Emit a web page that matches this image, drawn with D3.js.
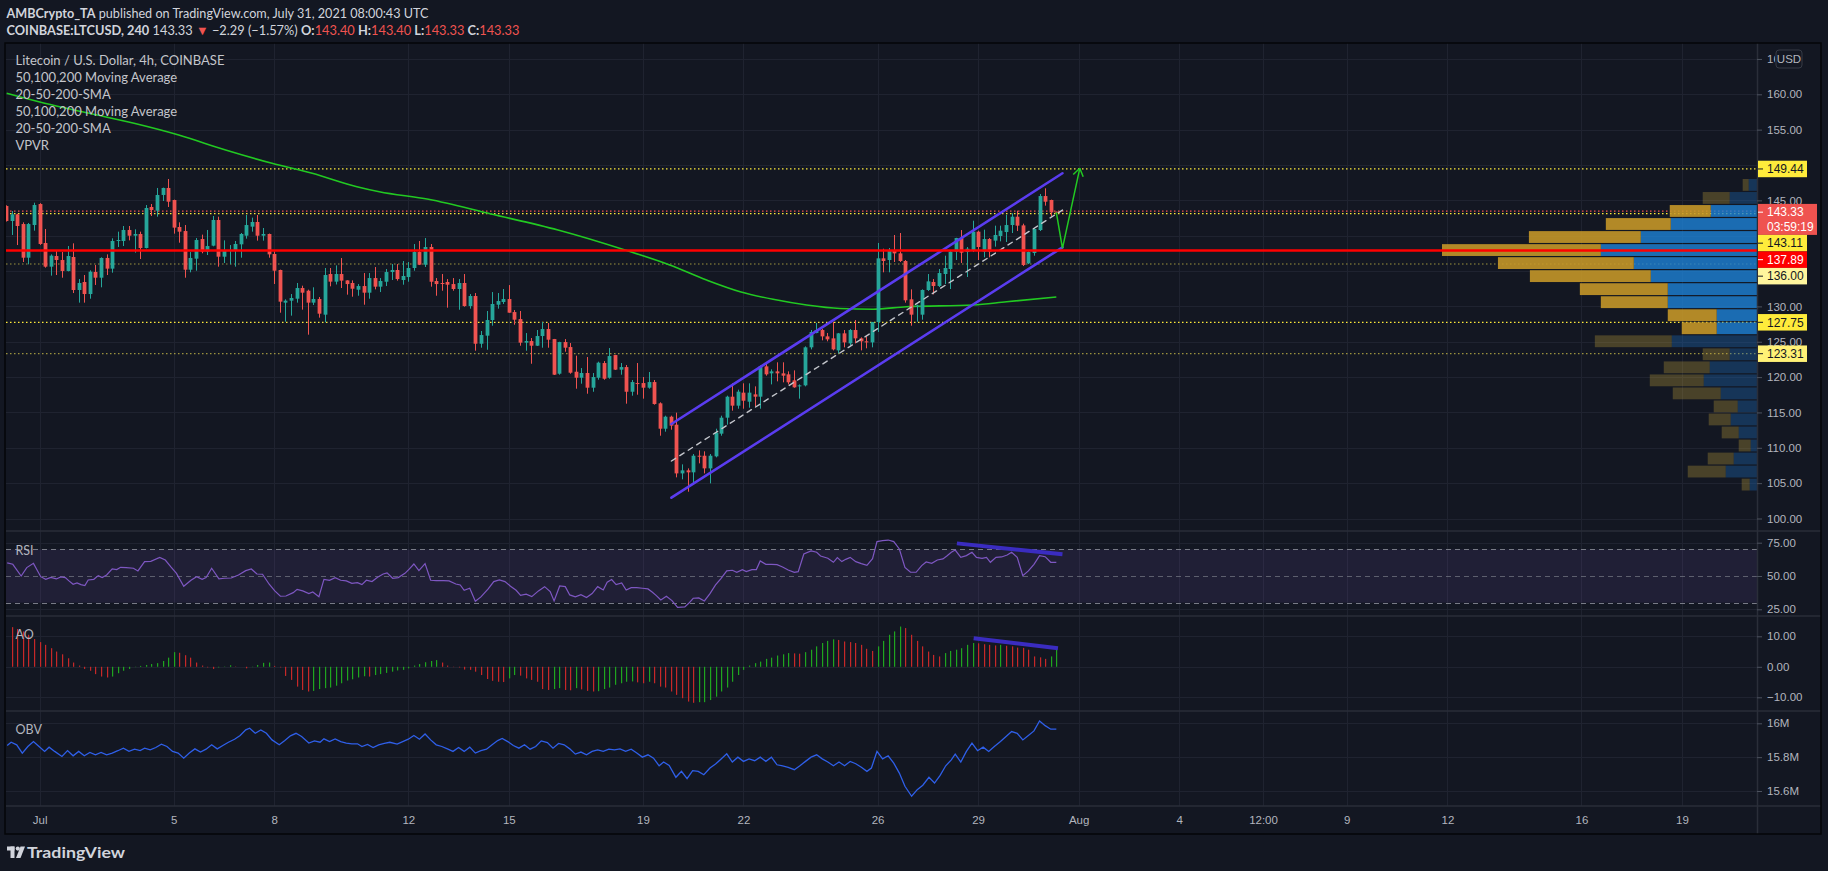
<!DOCTYPE html>
<html>
<head>
<meta charset="utf-8">
<title>LTCUSD 4h</title>
<script src="https://cdn.jsdelivr.net/npm/d3@7"></script>
<style>
  html, body { margin: 0; padding: 0; background: #131722; overflow: hidden; }
  text { font-family: Lato, "Open Sans", sans-serif; }
  .axis text { font-family: "Liberation Sans", Arial, sans-serif; font-size: 11.5px; fill: #b2b5be; }
</style>
</head>
<body>
<div id="chart"></div>
<script>
// 4h bars, bar 0 = 1 Jul 2021 00:00 UTC, first drawn bar is -6 (30 Jun)
var firstBar = -6;
var candleOpen = [144.20,142.08,143.02,141.65,136.89,141.51,144.48,138.97,135.62,137.13,136.56,135.01,136.99,132.32,133.45,131.75,134.87,134.06,136.85,135.34,139.25,139.25,140.81,140.00,140.24,138.26,144.06,143.54,145.76,146.75,145.05,141.23,140.66,135.19,136.75,139.53,137.74,138.59,142.22,137.03,137.84,137.98,138.78,140.00,141.28,141.94,140.00,140.24,137.41,135.15,130.53,130.81,131.09,132.60,132.22,130.53,131.05,128.83,134.58,133.50,134.58,133.68,133.31,132.36,132.88,131.94,134.01,132.79,133.49,134.86,135.15,133.73,134.15,135.43,137.69,135.90,138.40,133.59,133.31,133.45,133.16,132.46,133.31,130.05,131.47,124.72,125.86,128.07,130.24,130.62,131.04,129.20,128.21,124.87,125.10,124.44,125.81,126.80,125.38,120.48,124.96,124.25,120.76,119.91,120.58,118.50,119.91,121.99,119.91,123.12,121.05,121.42,117.93,119.16,119.16,118.50,119.30,116.29,112.70,114.40,113.27,106.38,106.81,106.53,108.88,108.88,107.09,108.79,112.00,114.26,117.23,115.96,117.80,116.52,117.56,117.23,121.52,120.53,120.81,120.53,120.39,119.54,118.69,118.83,124.21,126.24,126.66,125.76,125.48,123.78,126.19,124.77,126.66,125.48,125.06,124.91,127.79,136.80,136.56,137.97,137.50,136.42,131.00,130.00,128.83,132.32,133.45,132.88,134.58,135.29,137.74,139.67,137.69,137.88,140.57,137.74,139.53,139.30,139.96,140.52,141.51,142.69,141.46,136.09,137.55,140.80,145.61,145.05,143.40];
var candleHigh = [144.30,143.49,143.10,141.89,141.80,144.67,144.60,140.95,137.36,137.84,137.69,138.54,138.92,133.87,134.44,135.10,135.86,136.94,137.36,139.63,140.57,141.37,141.37,140.90,140.57,144.34,144.48,146.75,146.80,148.02,145.10,141.89,141.51,137.69,139.67,140.15,140.81,142.79,142.69,139.34,138.68,139.25,140.38,142.93,142.55,142.93,141.09,140.30,137.79,135.20,131.00,131.75,133.31,132.93,132.37,132.70,131.33,135.43,135.43,135.80,136.84,133.70,133.68,133.16,134.72,134.72,135.57,134.01,135.29,135.99,135.99,136.42,136.28,138.82,139.25,139.67,138.82,134.01,134.58,133.87,134.01,133.87,134.58,131.75,131.89,126.52,129.35,132.03,131.89,132.46,133.02,129.49,129.35,126.23,125.53,126.66,127.79,127.65,125.40,125.00,125.38,124.82,123.03,121.28,122.84,120.58,122.18,122.27,124.11,123.15,121.99,121.71,119.59,121.99,120.01,120.72,119.59,116.43,114.54,114.54,114.97,107.66,107.09,109.12,109.64,109.50,109.12,112.70,114.54,117.37,119.12,118.22,119.12,119.12,118.69,121.66,122.09,121.10,122.09,122.09,120.81,120.95,118.97,124.35,126.66,127.65,126.80,126.24,127.79,126.24,126.66,126.80,128.07,125.62,125.76,127.80,138.97,138.16,138.26,140.10,140.38,136.56,132.41,130.24,132.41,134.58,133.87,135.29,137.17,137.97,139.70,140.80,138.40,142.12,140.71,140.85,139.67,141.42,141.42,142.97,143.16,143.54,141.70,137.79,141.09,145.90,146.70,145.10,143.40];
var candleLow = [142.00,140.10,138.68,136.28,135.95,140.71,138.70,135.48,134.35,134.44,134.06,134.95,131.89,130.53,130.53,131.09,133.03,132.70,134.44,134.77,138.40,138.54,139.34,137.60,136.70,138.20,142.79,142.69,144.91,144.06,140.29,139.01,134.06,134.82,135.05,137.51,137.27,138.50,135.62,136.14,135.95,135.62,136.89,139.58,140.57,139.30,139.30,136.89,133.17,129.11,127.84,128.69,130.53,129.54,126.00,130.20,128.41,127.75,132.84,133.10,132.60,131.66,131.37,131.51,130.24,131.09,132.41,132.03,132.88,133.73,133.64,133.07,133.49,135.05,135.85,135.57,132.79,131.51,132.22,129.82,132.22,129.53,129.96,129.68,123.73,124.16,123.87,127.27,129.68,130.34,129.10,127.41,124.44,123.73,121.89,124.40,124.16,124.16,120.30,120.34,123.59,120.48,118.36,119.07,117.65,117.93,119.63,119.63,119.77,121.00,120.34,116.24,117.37,117.51,116.95,118.36,116.10,111.71,112.28,112.56,105.82,105.54,103.79,104.83,107.80,106.38,104.97,108.65,111.71,113.27,115.25,115.53,115.53,115.67,115.81,115.53,120.20,118.97,119.40,119.26,118.97,118.50,116.95,118.69,123.92,126.20,125.20,125.06,123.78,123.36,124.21,124.49,124.77,123.78,124.07,124.21,126.38,134.82,134.82,136.28,136.28,130.53,127.27,127.84,128.12,132.18,131.70,132.74,133.17,132.46,136.56,136.14,134.16,137.69,136.56,136.94,136.94,138.45,139.20,139.11,140.38,140.66,135.71,135.99,137.17,140.66,144.25,142.74,143.33];
var candleClose = [142.08,143.02,141.37,136.89,141.65,144.34,138.83,135.62,137.18,136.56,135.01,137.13,132.32,133.31,131.75,134.91,134.06,136.85,135.34,139.25,139.39,140.81,140.00,140.24,138.26,143.92,143.63,145.76,146.75,144.81,141.14,140.57,135.19,136.85,139.39,137.74,138.54,142.22,137.03,137.98,137.98,138.83,140.24,141.51,141.94,140.00,140.24,137.36,135.05,130.67,130.81,131.19,132.60,131.94,130.53,131.05,128.97,134.44,133.50,134.58,133.64,133.16,132.50,132.88,131.94,134.01,132.79,133.59,134.86,135.15,133.87,134.30,135.43,137.69,135.90,138.40,133.49,133.16,133.21,133.07,132.46,133.31,130.05,131.47,124.72,125.95,128.07,130.34,130.76,131.04,129.11,128.12,124.87,125.10,124.44,125.81,126.80,125.29,120.34,124.96,124.16,120.62,119.91,120.58,118.50,120.01,122.04,119.77,122.98,121.05,121.42,117.93,119.30,119.07,118.50,119.30,116.19,112.70,114.40,113.13,106.38,106.81,106.53,108.88,108.79,107.09,108.88,112.14,114.26,117.23,115.96,117.94,116.66,117.80,117.23,121.52,120.39,120.81,120.53,120.20,119.26,118.55,118.83,124.21,126.38,126.66,125.76,125.34,123.92,126.19,124.91,126.66,125.48,125.06,124.91,127.79,136.80,136.42,137.97,137.50,136.42,130.86,128.83,130.10,132.32,133.54,132.88,134.72,135.43,137.74,139.67,137.60,138.16,140.57,138.40,139.53,137.74,140.10,140.71,141.51,142.69,141.42,135.85,137.69,140.95,145.61,144.81,143.30,143.33];

// 200 SMA, read at these bar positions
var smaBar = [-5.9,0.9,8.9,16.9,24.9,33.3,41.6,48.8,56.8,60.8,69.6,80.8,92.8,104.8,112.8,119.4,125.4,131.3,137.3,143.3,149.2,155.2,167.1,173.1,182];
var smaValue = [160.14,158.73,157.31,155.90,154.24,152.12,150.24,148.83,146.93,146.22,145.15,143.07,140.81,137.98,135.86,133.73,132.08,131.00,130.20,129.70,129.59,129.96,130.20,130.66,131.33];

// levels drawn on the chart
var keyLevels = [149.44, 143.11, 127.75];
var minorLevels = [136.00, 123.31];
var supportLevel = 137.89;
var countdown = "03:59:19";
var lastChange = "\u22122.29 (\u22121.57%)";

// rising channel (upper / middle / lower) between two bars
var channelBar = [113.1, 183.1];
var channelUpper = [113.37, 148.83];
var channelMid = [108.13, 143.63];
var channelLower = [102.94, 138.36];

// projected move
var arrowBar = [182.0, 183.1, 186.2];
var arrowPrice = [143.3, 138.22, 149.53];

// volume profile rows, top row first
var vpUp = [25,82,139,259,349,469,370,319,268,268,121,121,256,82,142,160,109,58,79,55,19,70,94,22];
var vpDown = [18,81,123,195,336,477,408,363,264,201,147,105,231,81,138,162,144,72,66,51,36,78,114,24];
var vpValueRows = [2, 11];

// RSI 14
var rsiBar = [-5.8,-4.8,-3.3,-2.3,-1.1,0.2,1.1,2.0,3.0,3.8,4.6,5.2,6.0,6.7,7.4,8.1,8.7,9.7,10.5,11.2,12.0,13.0,13.8,14.5,15.5,16.8,17.6,18.8,19.9,21.5,22.5,23.5,24.5,25.8,27.1,28.1,29.1,29.8,30.8,32.1,33.1,34.3,35.6,36.9,37.9,38.9,39.9,41.1,42.1,43.1,44.1,45.4,46.1,47.1,48.2,48.9,50.0,50.9,51.9,52.9,53.9,54.9,55.9,56.9,57.7,58.5,59.5,60.5,61.5,62.2,63.2,64.2,65.4,66.2,67.0,67.9,69.0,70.0,71.0,72.3,73.3,74.5,75.3,76.0,77.0,78.0,79.0,80.3,81.3,82.3,83.3,84.3,85.3,86.1,87.1,88.1,89.3,90.4,91.4,92.1,93.1,94.1,94.9,95.9,96.9,97.9,98.9,99.9,100.9,101.6,102.4,103.2,104.2,105.0,105.9,106.9,107.9,108.9,109.7,110.4,111.2,112.2,113.2,114.2,115.5,116.2,117.0,118.0,119.0,120.0,121.0,122.0,123.0,124.0,124.8,125.8,126.5,127.5,128.3,129.0,130.0,131.0,132.0,133.0,134.0,135.1,135.8,136.8,138.1,139.1,139.8,141.1,142.1,142.8,143.6,144.3,145.1,146.1,147.1,148.1,149.1,149.9,150.9,151.9,152.9,153.9,154.9,155.9,156.9,157.9,158.7,159.7,160.7,161.7,162.4,163.2,163.9,164.9,165.9,166.9,167.7,168.7,169.5,170.2,171.2,172.2,173.2,174.0,175.0,176.0,177.0,178.0,179.0,180.0,181.0,182.0];
var rsiValue = [59.8,58.8,50.0,56.3,59.5,49.5,47.5,49.0,47.8,49.3,48.8,46.5,43.8,44.8,43.5,42.8,47.0,47.5,50.3,48.8,50.8,55.3,54.8,56.5,56.3,55.8,53.8,60.8,61.0,64.0,62.0,56.8,52.0,42.3,46.8,49.5,47.5,48.8,55.8,47.8,48.3,48.5,50.8,54.0,55.3,51.5,51.3,43.8,38.8,34.8,35.0,37.5,40.0,38.8,36.8,38.0,34.5,47.5,46.8,48.8,46.8,46.3,44.5,45.0,43.5,46.8,45.8,49.0,51.5,52.3,48.3,48.8,52.0,55.3,59.0,54.0,59.3,46.8,46.5,46.5,46.3,44.0,43.3,39.3,40.8,31.0,34.3,40.3,45.8,47.0,45.8,42.3,39.3,35.5,36.3,34.5,38.8,42.0,38.3,31.3,42.5,42.0,35.8,34.3,36.0,33.8,36.8,42.0,39.5,45.3,47.3,43.5,44.8,39.5,41.3,41.3,40.8,40.3,37.8,35.3,32.0,34.8,31.5,26.5,26.8,29.5,33.3,33.5,31.3,36.8,43.3,48.3,53.8,54.3,52.8,54.8,53.3,54.8,54.8,61.3,58.8,58.8,58.5,56.8,54.5,52.8,53.3,66.5,68.8,67.8,65.0,63.3,60.3,63.8,60.8,62.5,64.0,60.8,59.3,58.0,63.0,75.8,76.5,77.0,75.8,70.3,56.5,52.8,52.8,57.8,60.5,59.5,62.0,62.8,65.0,67.8,69.5,64.0,65.3,67.8,64.0,63.3,64.0,60.3,64.0,64.3,65.8,67.8,64.0,50.3,53.8,58.8,65.3,64.5,60.3,60.3];
var rsiDivBar = [164.2, 183.1];
var rsiDivValue = [74.5, 66.3];

// Awesome Oscillator, one value per bar, ending at the last bar
var aoValue = [13.0,12.4,11.6,10.5,9.1,8.1,7.2,6.1,5.0,4.1,2.8,1.4,0.4,-0.7,-1.3,-2.4,-3.2,-3.5,-3.2,-2.1,-1.3,-0.7,-0.1,0.3,0.6,0.9,1.2,1.9,3.0,4.8,4.6,3.8,3.0,1.4,0.4,-0.2,-0.7,-0.2,0.1,0.5,0.1,0.0,-0.5,-0.1,0.6,1.3,1.4,0.3,-0.2,-3.0,-4.3,-6.5,-7.6,-8.1,-7.9,-7.3,-7.0,-6.8,-6.2,-5.4,-4.5,-4.1,-3.5,-3.1,-3.2,-2.7,-2.4,-2.0,-1.6,-1.2,-1.0,-0.5,0.4,0.9,1.5,1.9,2.2,1.4,0.4,-0.1,-0.2,-0.9,-1.0,-1.6,-2.7,-4.0,-4.6,-4.9,-5.0,-3.8,-2.7,-2.9,-3.8,-4.3,-4.9,-7.3,-7.6,-7.3,-7.0,-7.6,-7.7,-7.0,-7.4,-7.9,-8.1,-8.0,-7.3,-6.8,-5.9,-5.4,-4.9,-4.8,-5.1,-5.4,-4.9,-5.4,-6.5,-6.8,-8.1,-9.2,-10.3,-11.4,-11.8,-11.6,-11.6,-10.9,-9.8,-8.1,-6.8,-4.9,-2.7,-1.0,0.4,1.2,1.7,2.6,3.0,3.7,4.1,4.5,4.4,4.3,4.8,5.6,6.7,7.8,8.5,9.0,8.8,8.3,8.1,7.8,7.2,5.9,5.2,6.7,8.5,10.5,11.6,13.2,12.7,10.5,8.5,6.7,5.0,3.9,3.4,4.5,5.2,5.6,6.1,7.2,7.8,7.7,7.4,7.2,7.0,7.2,6.9,6.7,6.3,6.2,5.6,3.4,3.1,2.6,3.4,5.6];
var aoDivBar = [167.2, 182.3];
var aoDivValue = [9.34, 6.05];

// On Balance Volume, millions
var obvBar = [-5.8,-5.1,-4.1,-3.1,-2.1,-1.1,-0.1,0.9,1.7,2.7,4.0,5.0,6.0,7.0,8.0,9.0,10.0,11.0,12.0,13.0,14.0,15.0,16.0,17.0,18.0,18.8,19.8,20.8,21.8,22.8,23.8,24.8,25.8,26.8,27.8,28.8,29.8,30.8,31.8,32.8,33.8,34.9,35.9,36.9,37.6,38.6,39.6,40.6,41.6,42.9,43.9,44.9,45.9,46.9,48.2,49.2,50.2,50.9,51.9,52.9,53.9,54.9,55.9,56.9,57.7,58.7,59.7,60.7,61.7,62.7,64.0,65.0,66.0,67.0,68.0,69.0,70.0,71.0,72.0,73.0,74.0,75.0,76.0,77.0,78.0,79.0,80.0,81.0,82.0,82.8,83.8,84.8,85.8,86.8,87.8,88.8,89.8,90.9,91.9,92.9,93.9,94.9,95.9,96.9,97.9,98.9,99.9,100.9,101.9,102.9,103.9,104.9,105.9,106.9,107.9,108.9,109.9,110.9,111.7,112.7,113.9,114.9,115.9,116.9,117.9,118.9,120.0,121.0,122.0,123.0,124.0,125.0,126.0,127.0,128.0,129.0,130.0,131.0,132.0,133.0,134.0,135.1,136.1,137.1,138.1,139.1,140.1,141.1,142.1,143.1,144.1,145.1,146.1,147.1,148.1,148.9,149.9,150.9,151.9,152.9,153.9,154.9,156.1,157.1,158.1,159.2,160.2,161.2,162.2,163.2,163.9,164.9,165.9,166.9,167.9,168.9,169.9,170.9,172.0,173.0,174.0,175.0,176.0,177.0,178.0,179.0,180.0,181.0,182.0];
var obvValue = [15.869,15.888,15.873,15.824,15.863,15.892,15.863,15.834,15.859,15.834,15.804,15.839,15.808,15.834,15.808,15.828,15.814,15.828,15.814,15.824,15.838,15.853,15.834,15.847,15.839,15.853,15.843,15.857,15.877,15.863,15.834,15.824,15.794,15.824,15.849,15.830,15.847,15.873,15.849,15.869,15.888,15.906,15.928,15.961,15.971,15.941,15.961,15.941,15.902,15.873,15.898,15.926,15.941,15.922,15.883,15.896,15.888,15.908,15.892,15.908,15.892,15.883,15.879,15.879,15.863,15.875,15.857,15.873,15.881,15.888,15.877,15.892,15.906,15.928,15.906,15.937,15.902,15.873,15.863,15.849,15.834,15.857,15.834,15.859,15.824,15.839,15.847,15.873,15.898,15.910,15.892,15.869,15.853,15.873,15.847,15.863,15.896,15.886,15.853,15.881,15.873,15.849,15.818,15.830,15.814,15.834,15.843,15.834,15.847,15.843,15.849,15.834,15.847,15.824,15.800,15.814,15.794,15.749,15.771,15.751,15.681,15.716,15.673,15.720,15.716,15.696,15.736,15.759,15.789,15.820,15.771,15.800,15.775,15.790,15.779,15.800,15.775,15.800,15.755,15.749,15.740,15.726,15.749,15.775,15.800,15.814,15.790,15.771,15.749,15.771,15.749,15.775,15.761,15.740,15.716,15.736,15.834,15.790,15.808,15.765,15.706,15.628,15.569,15.608,15.634,15.681,15.647,15.692,15.749,15.784,15.818,15.771,15.834,15.883,15.838,15.859,15.834,15.863,15.892,15.922,15.951,15.941,15.902,15.928,15.955,16.014,15.986,15.965,15.965];

// axis ticks
var priceTicks = [100,105,110,115,120,125,130,135,140,145,150,155,160,165];
var rsiTicks = [25, 50, 75];
var aoTicks = [-10, 0, 10];
var obvTicks = [15.6, 15.8, 16.0];
var timeTicks = ["2021-07-01","2021-07-05","2021-07-08","2021-07-12","2021-07-15","2021-07-19","2021-07-22","2021-07-26","2021-07-29","2021-08-01","2021-08-04","2021-08-06T12:00","2021-08-09","2021-08-12","2021-08-16","2021-08-19"];
var timeTickLabels = ["Jul","5","8","12","15","19","22","26","29","Aug","4","12:00","9","12","16","19"];
var legendLines = ["Litecoin / U.S. Dollar, 4h, COINBASE","50,100,200 Moving Average","20-50-200-SMA","50,100,200 Moving Average","20-50-200-SMA","VPVR"];

// ---- layout ----
var width = 1828, height = 871;
var plotLeft = 6, plotRight = 1757, frameRight = 1821;
var mainTop = 43, mainBottom = 531, rsiBottom = 616, aoBottom = 711, obvBottom = 806, frameBottom = 834;
var usdLeft = 1776;
var upColor = "#26a69a", downColor = "#ef5350";

var t0 = Date.UTC(2021, 6, 1), barMs = 4 * 3600 * 1000;
function barDate(k) { return new Date(t0 + k * barMs); }
function utc(s) { return new Date(s + (s.length > 10 ? ":00Z" : "T00:00:00Z")); }

var x = d3.scaleUtc().domain([utc("2021-07-01"), utc("2021-08-19")]).range([39.6, 1682]);
var y = d3.scaleLinear().domain([100, 160]).range([518.5, 94.3]);
var yRsi = d3.scaleLinear().domain([25, 75]).range([609.3, 542.7]);
var yAo = d3.scaleLinear().domain([-10, 10]).range([697.3, 636.3]);
var yObv = d3.scaleLinear().domain([15.6, 16.0]).range([791, 723.3]);
function bx(k) { return x(barDate(k)); }

var svg = d3.select("#chart").append("svg")
  .attr("width", width).attr("height", height);

svg.append("rect").attr("width", width).attr("height", height).attr("fill", "#131722");

var defs = svg.append("defs");
function clip(id, top, bottom) {
  defs.append("clipPath").attr("id", id).append("rect")
    .attr("x", plotLeft).attr("y", top).attr("width", plotRight - plotLeft).attr("height", bottom - top);
}
clip("clipMain", mainTop, mainBottom);
clip("clipRsi", mainBottom, rsiBottom);
clip("clipAo", rsiBottom, aoBottom);
clip("clipObv", aoBottom, obvBottom);
// the USD button hides the right part of the top price label
defs.append("clipPath").attr("id", "clipUsd").append("rect")
  .attr("x", plotRight).attr("y", mainTop).attr("width", usdLeft - plotRight - 1).attr("height", 30);

// ---- grid ----
var grid = svg.append("g").attr("stroke", "#1f2330").attr("stroke-width", 1);
timeTicks.forEach(function(t) {
  var gx = Math.round(x(utc(t))) + 0.5;
  grid.append("line").attr("x1", gx).attr("x2", gx).attr("y1", mainTop).attr("y2", obvBottom);
});
function hgrid(scale, ticks, top, bottom) {
  ticks.forEach(function(v) {
    var gy = Math.round(scale(v)) + 0.5;
    if (gy < top || gy > bottom) return;
    grid.append("line").attr("x1", plotLeft).attr("x2", plotRight).attr("y1", gy).attr("y2", gy);
  });
}
hgrid(y, priceTicks, mainTop, mainBottom);
hgrid(yRsi, [25, 75], mainBottom, rsiBottom);
hgrid(yAo, aoTicks, rsiBottom, aoBottom);
hgrid(yObv, obvTicks, aoBottom, obvBottom);

// ---- main pane ----
var main = svg.append("g").attr("clip-path", "url(#clipMain)");

keyLevels.forEach(function(p) {
  main.append("line").attr("x1", plotLeft).attr("x2", plotRight)
    .attr("y1", y(p)).attr("y2", y(p))
    .attr("stroke", "#ffeb3b").attr("stroke-width", 1.2).attr("stroke-dasharray", "1.5,2.5");
});
minorLevels.forEach(function(p) {
  main.append("line").attr("x1", plotLeft).attr("x2", plotRight)
    .attr("y1", y(p)).attr("y2", y(p))
    .attr("stroke", "#c9bd4a").attr("stroke-opacity", 0.75).attr("stroke-width", 1.2).attr("stroke-dasharray", "1.5,2.5");
});
var lastIdx = candleClose.length - 1;
var lastPrice = candleClose[lastIdx];
main.append("line").attr("x1", plotLeft).attr("x2", plotRight)
  .attr("y1", y(lastPrice) - 1).attr("y2", y(lastPrice) - 1)
  .attr("stroke", "#ef5350").attr("stroke-width", 1.2).attr("stroke-dasharray", "1.5,2.5");

// volume profile, anchored on the price scale
var vpLow = d3.min(candleLow), vpHigh = d3.max(candleHigh);
var vpStep = (vpHigh - vpLow) / vpUp.length;
var vpX = d3.scaleLinear().domain([0, d3.max(vpUp, function(v, i) { return v + vpDown[i]; })]).range([0, 315]);
var vp = main.append("g");
vpUp.forEach(function(up, i) {
  var top = y(vpHigh - i * vpStep), bottom = y(vpHigh - (i + 1) * vpStep);
  var inValue = i >= vpValueRows[0] && i <= vpValueRows[1];
  var h = bottom - top - 1.2;
  vp.append("rect").attr("x", plotRight - vpX(up)).attr("y", top).attr("width", vpX(up)).attr("height", h)
    .attr("fill", inValue ? "rgba(30,130,215,0.8)" : "rgba(30,110,190,0.35)");
  vp.append("rect").attr("x", plotRight - vpX(up + vpDown[i])).attr("y", top).attr("width", vpX(vpDown[i])).attr("height", h)
    .attr("fill", inValue ? "rgba(200,154,40,0.88)" : "rgba(200,165,60,0.3)");
});

// 200 SMA
var smaPts = d3.zip(smaBar, smaValue);
main.append("path").datum(smaPts)
  .attr("fill", "none").attr("stroke", "#22c922").attr("stroke-width", 1.6)
  .attr("d", d3.line().x(function(d) { return bx(d[0]); }).y(function(d) { return y(d[1]); }).curve(d3.curveMonotoneX));

// candles
var bars = candleOpen.map(function(o, i) {
  return {k: firstBar + i, o: o, h: candleHigh[i], l: candleLow[i], c: candleClose[i]};
});
var candle = main.append("g").selectAll("g").data(bars).enter().append("g");
candle.append("line")
  .attr("x1", function(d) { return Math.round(bx(d.k)) + 0.5; })
  .attr("x2", function(d) { return Math.round(bx(d.k)) + 0.5; })
  .attr("y1", function(d) { return y(d.h); })
  .attr("y2", function(d) { return y(d.l); })
  .attr("stroke", function(d) { return d.c >= d.o ? upColor : downColor; });
candle.append("rect")
  .attr("x", function(d) { return Math.round(bx(d.k)) + 0.5 - 1.9; })
  .attr("width", 3.8)
  .attr("y", function(d) { return y(Math.max(d.o, d.c)); })
  .attr("height", function(d) { return Math.max(1, Math.abs(y(d.o) - y(d.c))); })
  .attr("fill", function(d) { return d.c >= d.o ? upColor : downColor; });

// channel
function seg(vals, color, w, dash) {
  main.append("line")
    .attr("x1", bx(channelBar[0])).attr("y1", y(vals[0]))
    .attr("x2", bx(channelBar[1])).attr("y2", y(vals[1]))
    .attr("stroke", color).attr("stroke-width", w).attr("stroke-dasharray", dash || null)
    .attr("stroke-linecap", "round");
}
seg(channelUpper, "#5a3cf0", 2.6);
seg(channelLower, "#5a3cf0", 2.6);
seg(channelMid, "#c4c6cc", 1.4, "5,5");

// support line
main.append("line").attr("x1", plotLeft).attr("x2", plotRight)
  .attr("y1", y(supportLevel)).attr("y2", y(supportLevel))
  .attr("stroke", "#ff0000").attr("stroke-width", 2.5);

// projected move arrow
var arrowPts = d3.zip(arrowBar, arrowPrice).map(function(d) { return [bx(d[0]), y(d[1])]; });
main.append("path").attr("d", d3.line()(arrowPts))
  .attr("fill", "none").attr("stroke", "#22c922").attr("stroke-width", 1.5);
var tip = arrowPts[2], prev = arrowPts[1];
var ang = Math.atan2(prev[1] - tip[1], prev[0] - tip[0]);
[-0.6, 0.6].forEach(function(da) {
  main.append("line").attr("x1", tip[0]).attr("y1", tip[1])
    .attr("x2", tip[0] + 9 * Math.cos(ang + da)).attr("y2", tip[1] + 9 * Math.sin(ang + da))
    .attr("stroke", "#22c922").attr("stroke-width", 1.5);
});

// ---- RSI pane ----
var rsi = svg.append("g").attr("clip-path", "url(#clipRsi)");
rsi.append("rect").attr("x", plotLeft).attr("width", plotRight - plotLeft)
  .attr("y", yRsi(70)).attr("height", yRsi(30) - yRsi(70))
  .attr("fill", "rgba(126,87,194,0.13)");
[70, 50, 30].forEach(function(v) {
  rsi.append("line").attr("x1", plotLeft).attr("x2", plotRight)
    .attr("y1", Math.round(yRsi(v)) + 0.5).attr("y2", Math.round(yRsi(v)) + 0.5)
    .attr("stroke", "#787b86").attr("stroke-opacity", v === 50 ? 0.7 : 1).attr("stroke-dasharray", "5,4");
});
rsi.append("path").datum(d3.zip(rsiBar, rsiValue))
  .attr("fill", "none").attr("stroke", "#7e57c2").attr("stroke-width", 1.2)
  .attr("d", d3.line().x(function(d) { return bx(d[0]); }).y(function(d) { return yRsi(d[1]); }));
rsi.append("line")
  .attr("x1", bx(rsiDivBar[0])).attr("y1", yRsi(rsiDivValue[0]))
  .attr("x2", bx(rsiDivBar[1])).attr("y2", yRsi(rsiDivValue[1]))
  .attr("stroke", "#3a2cc0").attr("stroke-width", 4);

// ---- AO pane ----
var ao = svg.append("g").attr("clip-path", "url(#clipAo)");
var aoFirst = firstBar + candleClose.length - aoValue.length;
ao.selectAll("rect").data(aoValue).enter().append("rect")
  .attr("x", function(d, i) { return Math.round(bx(aoFirst + i)); })
  .attr("width", 1.2)
  .attr("y", function(d) { return Math.min(yAo(d), yAo(0)); })
  .attr("height", function(d) { return Math.abs(yAo(d) - yAo(0)); })
  .attr("fill", function(d, i) { return i > 0 && d >= aoValue[i - 1] ? "#1fa51f" : "#c62828"; });
ao.append("line")
  .attr("x1", bx(aoDivBar[0])).attr("y1", yAo(aoDivValue[0]))
  .attr("x2", bx(aoDivBar[1])).attr("y2", yAo(aoDivValue[1]))
  .attr("stroke", "#3a2cc0").attr("stroke-width", 4);

// ---- OBV pane ----
var obv = svg.append("g").attr("clip-path", "url(#clipObv)");
obv.append("path").datum(d3.zip(obvBar, obvValue))
  .attr("fill", "none").attr("stroke", "#2f5fe8").attr("stroke-width", 1.3)
  .attr("d", d3.line().x(function(d) { return bx(d[0]); }).y(function(d) { return yObv(d[1]); }));

// ---- pane borders ----
var sep = svg.append("g").attr("stroke", "#2a2e39").attr("stroke-width", 1.5);
[mainBottom, rsiBottom, aoBottom, obvBottom].forEach(function(sy) {
  sep.append("line").attr("x1", plotLeft).attr("x2", frameRight).attr("y1", sy).attr("y2", sy);
});
sep.append("line").attr("x1", plotRight + 0.5).attr("x2", plotRight + 0.5).attr("y1", mainTop).attr("y2", frameBottom);
svg.append("rect").attr("x", plotLeft - 1).attr("y", mainTop).attr("width", frameRight - plotLeft + 1).attr("height", frameBottom - mainTop)
  .attr("fill", "none").attr("stroke", "#050608").attr("stroke-width", 1.5);

// ---- price tags on the scale, pushed down when they collide ----
var tags = [
  {p: keyLevels[0], fill: "#ffeb3b", ink: "#131722"},
  {p: lastPrice, fill: "#ef5350", ink: "#ffffff", sub: countdown, w: 60},
  {p: keyLevels[1], fill: "#ffeb3b", ink: "#131722"},
  {p: supportLevel, fill: "#ff0000", ink: "#ffffff"},
  {p: minorLevels[0], fill: "#fff59d", ink: "#131722"},
  {p: keyLevels[2], fill: "#ffeb3b", ink: "#131722"},
  {p: minorLevels[1], fill: "#fff176", ink: "#131722"}
];
tags.sort(function(a, b) { return y(a.p) - y(b.p); });
var lastBottom = -Infinity;
tags.forEach(function(t) {
  t.h = t.sub ? 31 : 16.5;
  t.top = Math.max(y(t.p) - 8.25, lastBottom);
  lastBottom = t.top + t.h;
});
function underTag(py) {
  return tags.some(function(t) { return py >= t.top && py <= t.top + t.h; });
}

// ---- axes ----
var priceFmt = d3.format(".2f");
function rightAxis(scale, ticks, fmt) {
  var g = svg.append("g").attr("class", "axis").attr("transform", "translate(" + plotRight + ",0)")
    .call(d3.axisRight(scale).tickValues(ticks).tickSize(5).tickPadding(5).tickFormat(fmt));
  g.select(".domain").remove();
  g.selectAll(".tick line").attr("stroke", "#4c525e");
  return g;
}
var priceAxis = rightAxis(y, priceTicks, priceFmt);
// labels sitting under a price tag are not shown, as on the scale
priceAxis.selectAll(".tick").filter(function(d) { return underTag(y(d)); }).remove();
// the top label is partly covered by the USD button: redraw it clipped at the button edge
priceAxis.selectAll(".tick").filter(function(d) { return y(d) < mainTop + 30; }).each(function(d) {
  d3.select(this).select("text").remove();
  svg.append("text").attr("class", "axis-top").attr("x", plotRight + 10).attr("y", y(d)).attr("dy", "0.32em")
    .attr("clip-path", "url(#clipUsd)").attr("fill", "#b2b5be")
    .style("font-family", "'Liberation Sans', Arial, sans-serif").style("font-size", "11.5px")
    .text(priceFmt(d).slice(0, 2));
});
rightAxis(yRsi, rsiTicks, d3.format(".2f"));
rightAxis(yAo, aoTicks, function(v) { return (v < 0 ? "\u2212" : "") + Math.abs(v).toFixed(2); });
rightAxis(yObv, obvTicks, function(v) { return (v === 16 ? "16" : v.toFixed(1)) + "M"; });

var tAxis = svg.append("g").attr("class", "axis").attr("transform", "translate(0," + obvBottom + ")")
  .call(d3.axisBottom(x).tickValues(timeTicks.map(utc)).tickSize(0).tickPadding(10)
    .tickFormat(function(d, i) { return timeTickLabels[i]; }));
tAxis.select(".domain").remove();

// USD button
svg.append("rect").attr("x", usdLeft).attr("y", 50).attr("width", 26).attr("height", 18).attr("rx", 3)
  .attr("fill", "#131722").attr("stroke", "#363a45");
svg.append("text").attr("x", usdLeft + 13).attr("y", 63).attr("text-anchor", "middle")
  .attr("fill", "#b2b5be").style("font-family", "'Liberation Sans', Arial, sans-serif").style("font-size", "11.5px").text("USD");

tags.forEach(function(t) {
  var g = svg.append("g");
  g.append("rect").attr("x", plotRight + 1).attr("y", t.top).attr("width", (t.w || 50) - 1).attr("height", t.h)
    .attr("fill", t.fill);
  g.append("line").attr("x1", plotRight + 1).attr("x2", plotRight + 6)
    .attr("y1", t.top + 8.25).attr("y2", t.top + 8.25).attr("stroke", t.ink);
  g.append("text").attr("x", 1767).attr("y", t.top + 12.5).attr("fill", t.ink)
    .style("font-family", "'Liberation Sans', Arial, sans-serif").style("font-size", "12px").text(t.p.toFixed(2));
  if (t.sub) {
    g.append("text").attr("x", 1767).attr("y", t.top + 27).attr("fill", t.ink)
      .style("font-family", "'Liberation Sans', Arial, sans-serif").style("font-size", "12px").text(t.sub);
  }
});

// ---- legend ----
var legend = svg.append("g").attr("fill", "#c3c5cb").style("font-size", "13px");
legendLines.forEach(function(s, i) {
  legend.append("text").attr("x", 15.5).attr("y", 65 + i * 17).text(s);
});
var paneLabel = svg.append("g").attr("fill", "#b2b5be").style("font-size", "12.5px");
paneLabel.append("text").attr("x", 15.5).attr("y", 555).text("RSI");
paneLabel.append("text").attr("x", 15.5).attr("y", 639).text("AO");
paneLabel.append("text").attr("x", 15.5).attr("y", 734).text("OBV");

// ---- header ----
var head1 = svg.append("text").attr("x", 6.5).attr("y", 18).attr("fill", "#d1d4dc").style("font-size", "13.5px")
  .attr("textLength", 422).attr("lengthAdjust", "spacingAndGlyphs");
head1.append("tspan").attr("font-weight", "bold").text("AMBCrypto_TA");
head1.append("tspan").text(" published on TradingView.com, July 31, 2021 08:00:43 UTC");

var head2 = svg.append("text").attr("x", 6.5).attr("y", 35).attr("fill", "#d1d4dc").style("font-size", "12.8px");
head2.append("tspan").attr("font-weight", "bold").text("COINBASE:LTCUSD, 240");
head2.append("tspan").text(" " + lastPrice.toFixed(2) + " ");
head2.append("tspan").attr("fill", "#ef5350").text("\u25BC");
head2.append("tspan").text(" " + lastChange + " ");
[["O:", candleOpen[lastIdx]], [" H:", candleHigh[lastIdx]], [" L:", candleLow[lastIdx]], [" C:", candleClose[lastIdx]]].forEach(function(p) {
  head2.append("tspan").attr("font-weight", "bold").text(p[0]);
  head2.append("tspan").attr("fill", "#ef5350").text(p[1].toFixed(2));
});

// ---- TradingView mark ----
var logo = svg.append("g").attr("fill", "#d1d4dc");
logo.append("rect").attr("x", 7).attr("y", 846.5).attr("width", 7.5).attr("height", 4);
logo.append("rect").attr("x", 10.5).attr("y", 846.5).attr("width", 4).attr("height", 11.5);
logo.append("circle").attr("cx", 17.8).attr("cy", 848.6).attr("r", 2.1);
logo.append("path").attr("d", "M20.5,846.5 L25,846.5 L20.5,858 L16,858 Z");
logo.append("text").attr("x", 27).attr("y", 858).attr("font-weight", "bold").style("font-size", "15px")
  .attr("textLength", 98).attr("lengthAdjust", "spacingAndGlyphs").text("TradingView");
</script>
</body>
</html>
